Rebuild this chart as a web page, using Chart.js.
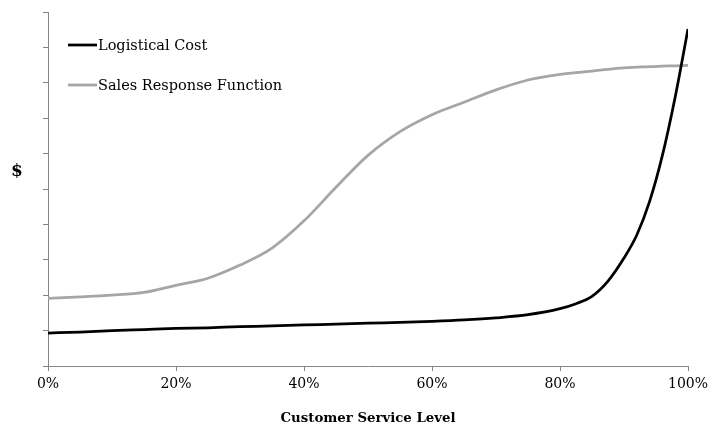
<!DOCTYPE html>
<html>
<head>
<meta charset="utf-8">
<script src="https://cdn.jsdelivr.net/npm/chart.js@4/dist/chart.umd.min.js"></script>
<style>
  html, body { margin: 0; padding: 0; background: #ffffff; }
  #wrap { width: 709px; height: 431px; position: relative; }
</style>
</head>
<body>
<div id="wrap"><canvas id="chart"></canvas></div>
<script>
// Customer service level (%) on the x axis
const serviceLevels = [0, 5, 10, 15, 20, 25, 30, 35, 40, 45, 50, 55, 60, 65, 70, 75, 80, 82.5, 85, 87.5, 90, 92, 94, 96, 98, 100];

// Logistical cost: flat, then rising steeply near full service
const logisticalCost = [0.93, 0.96, 1.00, 1.03, 1.06, 1.08, 1.11, 1.13, 1.16, 1.18, 1.21, 1.23, 1.26, 1.30, 1.36, 1.45, 1.62, 1.76, 1.97, 2.40, 3.05, 3.70, 4.65, 5.95, 7.60, 9.52];

// Sales response: S-shaped curve levelling off
const salesResponse = [1.91, 1.95, 2.00, 2.08, 2.28, 2.48, 2.85, 3.33, 4.10, 5.05, 5.95, 6.62, 7.10, 7.45, 7.80, 8.08, 8.24, 8.29, 8.33, 8.38, 8.42, 8.44, 8.46, 8.47, 8.48, 8.49];

const xTickValues = [0, 20, 40, 60, 80, 100];
const seriesNames = ['Logistical Cost', 'Sales Response Function'];

const FONT = "'DejaVu Serif', serif";
const AXIS_GREY = '#868686';

function toPoints(values) {
  return serviceLevels.map((x, i) => ({ x: x, y: values[i] }));
}

// Legend drawn inside the plot area as line samples with labels
const insideLegend = {
  id: 'insideLegend',
  afterDatasetsDraw(chart) {
    const ctx = chart.ctx;
    ctx.save();
    ctx.font = '14.5px ' + FONT;
    ctx.textBaseline = 'middle';
    ctx.textAlign = 'left';
    chart.data.datasets.forEach((ds, i) => {
      const y = 45 + i * 40;
      ctx.strokeStyle = ds.borderColor;
      ctx.lineWidth = ds.borderWidth;
      ctx.beginPath();
      ctx.moveTo(68, y);
      ctx.lineTo(97, y);
      ctx.stroke();
      ctx.fillStyle = '#000000';
      ctx.fillText(ds.label, 98, y + 1);
    });
    ctx.restore();
  }
};

// Upright "$" label for the value axis
const yAxisLabel = {
  id: 'yAxisLabel',
  afterDraw(chart) {
    const ctx = chart.ctx;
    ctx.save();
    ctx.font = 'bold 17px ' + FONT;
    ctx.fillStyle = '#000000';
    ctx.textAlign = 'center';
    ctx.textBaseline = 'middle';
    ctx.fillText('$', 17, 172);
    ctx.restore();
  }
};

new Chart(document.getElementById('chart'), {
  type: 'line',
  data: {
    datasets: [
      {
        label: seriesNames[0],
        data: toPoints(logisticalCost),
        borderColor: '#000000',
        borderWidth: 2.75,
        pointRadius: 0,
        cubicInterpolationMode: 'monotone',
        fill: false
      },
      {
        label: seriesNames[1],
        data: toPoints(salesResponse),
        borderColor: '#a6a6a6',
        borderWidth: 2.75,
        pointRadius: 0,
        cubicInterpolationMode: 'monotone',
        fill: false
      }
    ]
  },
  options: {
    responsive: true,
    maintainAspectRatio: false,
    animation: false,
    layout: { padding: { top: 12, right: 21, left: 0, bottom: 0 } },
    plugins: {
      legend: { display: false },
      tooltip: { enabled: false }
    },
    scales: {
      x: {
        type: 'linear',
        min: 0,
        max: 100,
        afterFit(scale) {
          scale.height = 65;
          scale.paddingLeft = 0;
          scale.paddingRight = 0;
        },
        afterBuildTicks(scale) { scale.ticks = xTickValues.map(v => ({ value: v })); },
        border: { color: AXIS_GREY, width: 1 },
        grid: { drawOnChartArea: false, color: AXIS_GREY, tickLength: 5 },
        ticks: {
          color: '#000000',
          font: { family: FONT, size: 14 },
          padding: 5,
          maxRotation: 0,
          callback: v => v + '%'
        },
        title: {
          display: true,
          text: 'Customer Service Level',
          color: '#000000',
          font: { family: FONT, size: 13.3, weight: 'bold' },
          padding: { top: 4, bottom: 4 }
        }
      },
      y: {
        min: 0,
        max: 10,
        afterFit(scale) { scale.width = 48; },
        border: { color: AXIS_GREY, width: 1 },
        grid: { drawOnChartArea: false, color: AXIS_GREY, tickLength: 5 },
        ticks: { stepSize: 1, display: false }
      }
    }
  },
  plugins: [insideLegend, yAxisLabel]
});
</script>
</body>
</html>
